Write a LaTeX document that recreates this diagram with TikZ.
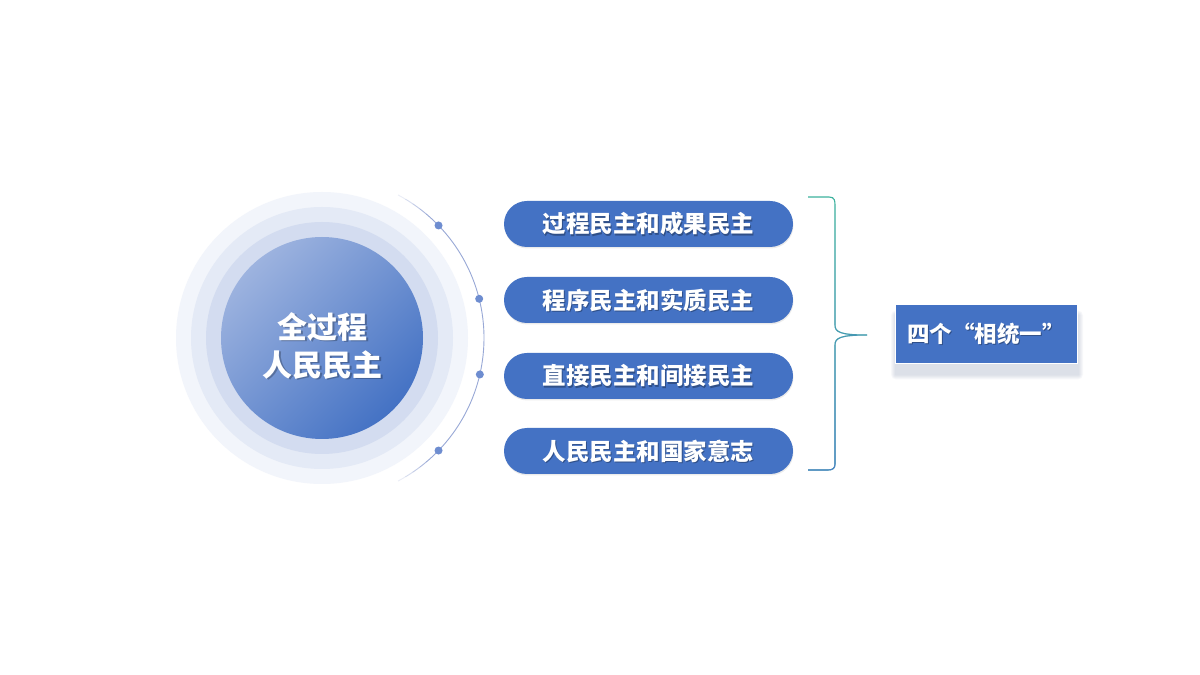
\documentclass[tikz,border=0pt]{standalone}
\usepackage{fontspec}
\setmainfont{Noto Sans CJK SC}
\usetikzlibrary{fadings}
\definecolor{mainblue}{HTML}{4472C4}
\definecolor{lightblue}{HTML}{9DB3DF}
\definecolor{ringA}{HTML}{F2F5FB}
\definecolor{ringB}{HTML}{E4EAF6}
\definecolor{ringC}{HTML}{D3DCF0}
\definecolor{arccol}{HTML}{98A8D6}
\definecolor{dotcol}{HTML}{6E8DD0}
\definecolor{braceteal}{HTML}{3DB39E}
\definecolor{braceblue}{HTML}{4F7FC8}
\definecolor{shadowcol}{HTML}{8090B0}
\tikzfading[name=fadedown, top color=transparent!100, bottom color=transparent!0]
\tikzset{
  x=1pt, y=1pt,
  pill/.style={rounded corners=23pt, fill=mainblue, minimum width=289pt, minimum height=46pt, inner sep=0pt},
  pilltext/.style={text=white, font=\fontsize{23.5}{27}\selectfont\bfseries, inner sep=0pt},
  tshadow/.style={text=black, opacity=0.3, font=\fontsize{23.5}{27}\selectfont\bfseries, inner sep=0pt},
  boxtext/.style={text=white, font=\fontsize{22.5}{27}\selectfont\bfseries, inner sep=0pt},
  boxshadowtext/.style={text=black, opacity=0.3, font=\fontsize{22.5}{27}\selectfont\bfseries, inner sep=0pt},
  dotstyle/.style={circle, fill=dotcol, minimum size=8pt, inner sep=0pt},
  bigtext/.style={text=white, font=\fontsize{30}{38}\selectfont\bfseries, align=center, inner sep=0pt},
}
\begin{document}
\begin{tikzpicture}
\useasboundingbox (0,0) rectangle (1200,675);
\fill[white] (0,0) rectangle (1200,675);
% concentric circles
\coordinate (C) at (322,337);
\fill[ringA] (C) circle (146);
\fill[ringB] (C) circle (131);
\fill[ringC] (C) circle (116);
\shade[top color=lightblue, bottom color=mainblue, shading angle=45] (C) circle (101);
\node[text=black, opacity=0.25, font=\fontsize{30}{38}\selectfont\bfseries, align=center, inner sep=0pt] (ctshadow) at (324,327.5) {全过程\\人民民主};
\node[bigtext] (center) at (322.5,329) {全过程\\人民民主};
% arc with fading ends
\draw[arccol, line width=0.9pt] ([shift={(50:162)}]C) arc (50:-50:162);
\foreach \a/\o in {50/0.8,53/0.6,56/0.4,59/0.2}{
  \draw[arccol, line width=0.9pt, opacity=\o] ([shift={(\a:162)}]C) arc (\a:\a+3:162);
  \draw[arccol, line width=0.9pt, opacity=\o] ([shift={(-\a:162)}]C) arc (-\a:-\a-3:162);
}
\node[dotstyle] (d1) at ([shift={(44:162)}]C) {};
\node[dotstyle] (d2) at ([shift={(14:162)}]C) {};
\node[dotstyle] (d3) at ([shift={(-13:162)}]C) {};
\node[dotstyle] (d4) at ([shift={(-44:162)}]C) {};
% pills
\foreach \y/\t/\n in {451/过程民主和成果民主/p1, 375/程序民主和实质民主/p2, 299/直接民主和间接民主/p3, 224/人民民主和国家意志/p4}{
  \fill[black, opacity=0.08, rounded corners=23pt] (504.5,\y-24.5) rectangle (793.5,\y+21.5);
  \node[pill] (\n) at (648.5,\y) {};
  \node[tshadow] (\n s) at (649.5,\y-1.2) {\t};
  \node[pilltext] (\n t) at (648.5,\y) {\t};
}
% brace
\coordinate (btop) at (808,478);
\coordinate (btip) at (867,340);
\coordinate (bbot) at (808,205);
\def\bracepath{(btop) -- (829,478) .. controls (835,478) and (835,474) .. (835,469) -- (835,350) .. controls (835,343) and (840,340) .. (btip) .. controls (840,340) and (835,337) .. (835,330) -- (835,211) .. controls (835,207) and (833,205) .. (828,205) -- (bbot)}
\draw[braceteal, line width=1.1pt] \bracepath;
\draw[braceblue, line width=1.1pt, path fading=fadedown] \bracepath;
% box shadow (soft)
\foreach \s in {5,4,3,2,1}{
  \fill[shadowcol, opacity=0.06, rounded corners=\s pt] (895+1-\s,304.5-4-\s) rectangle (1077+1+\s,363.5-4+\s);
}
\node[fill=mainblue, draw=white, line width=0.8pt, minimum width=182pt, minimum height=59pt, inner sep=0pt] (box) at (986,341.5) {};
\node[boxshadowtext] (boxts) at (987,339.8) {四个“相统一”};
\node[boxtext] (boxt) at (986,341) {四个“相统一”};
\end{tikzpicture}
\end{document}
